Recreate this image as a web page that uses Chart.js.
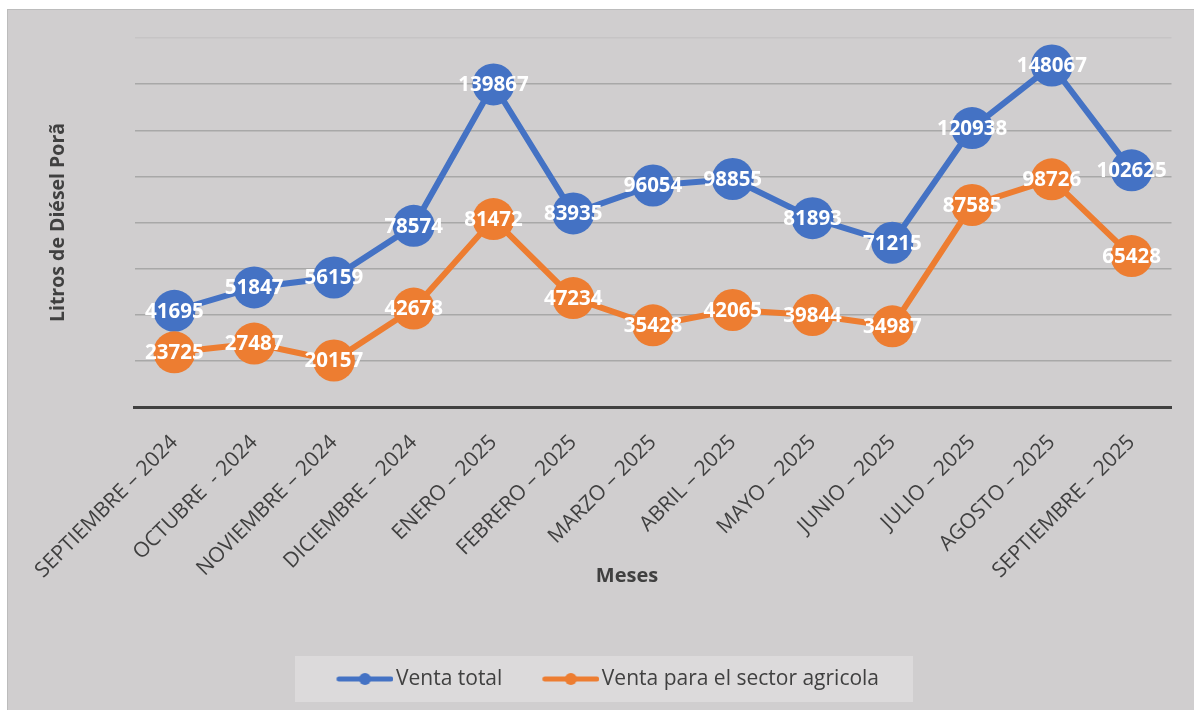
<!DOCTYPE html>
<html>
<head>
<meta charset="utf-8">
<script src="https://cdn.jsdelivr.net/npm/chart.js@4.4.1/dist/chart.umd.min.js"></script>
<style>
  html, body { margin: 0; padding: 0; background: #ffffff; overflow: hidden; }
  #frame {
    position: absolute; left: 7px; top: 9px; width: 1187px; height: 701px;
    background: #d0cecf; border-left: 1px solid #bcbcbc; border-top: 1px solid #bcbcbc;
  }
  #chart { display: block; }
</style>
</head>
<body>
<div id="frame"><canvas id="chart" width="1186" height="700"></canvas></div>
<script>
// Data
const months = [
  'SEPTIEMBRE – 2024', 'OCTUBRE  - 2024', 'NOVIEMBRE – 2024', 'DICIEMBRE – 2024',
  'ENERO – 2025', 'FEBRERO – 2025', 'MARZO – 2025', 'ABRIL – 2025', 'MAYO – 2025',
  'JUNIO – 2025', 'JULIO – 2025', 'AGOSTO – 2025', 'SEPTIEMBRE – 2025'
];
const ventaTotal = [41695, 51847, 56159, 78574, 139867, 83935, 96054, 98855, 81893, 71215, 120938, 148067, 102625];
const ventaAgricola = [23725, 27487, 20157, 42678, 81472, 47234, 35428, 42065, 39844, 34987, 87585, 98726, 65428];
const seriesNames = ['Venta total', 'Venta para el sector agricola'];
const yMax = 160000;
const yStep = 20000;

const BLUE = '#4472c4';
const ORANGE = '#ed7d31';
const TEXT = '#404040';

Chart.defaults.font.family = "'Open Sans', sans-serif";

// line+dot icon for the legend (line sits at the right end of the image)
function legendIcon(color) {
  const c = document.createElement('canvas');
  c.width = 95; c.height = 14;
  const g = c.getContext('2d');
  g.strokeStyle = color;
  g.lineWidth = 5;
  g.lineCap = 'round';
  g.beginPath(); g.moveTo(40.5, 7); g.lineTo(92.5, 7); g.stroke();
  g.fillStyle = color;
  g.beginPath(); g.arc(66.5, 7, 6, 0, Math.PI * 2); g.fill();
  return c;
}

// Plugins
const legendBackground = {
  id: 'legendBackground',
  beforeDraw(chart) {
    const boxes = chart.legend && chart.legend.legendHitBoxes;
    if (!boxes || !boxes.length) return;
    const cy = boxes[0].top + boxes[0].height / 2;
    const cx = chart.width / 2 + 3;
    const ctx = chart.ctx;
    ctx.save();
    ctx.fillStyle = '#dcdadb';
    ctx.fillRect(cx - 309, cy - 23, 618, 46);
    ctx.restore();
  }
};

const pointLabels = {
  id: 'pointLabels',
  afterDatasetsDraw(chart) {
    const ctx = chart.ctx;
    ctx.save();
    ctx.fillStyle = '#ffffff';
    ctx.font = "bold 20.5px 'Open Sans', sans-serif";
    ctx.textAlign = 'center';
    ctx.textBaseline = 'middle';
    chart.data.datasets.forEach((ds, i) => {
      const meta = chart.getDatasetMeta(i);
      meta.data.forEach((pt, j) => {
        ctx.fillText(String(ds.data[j]), pt.x, pt.y + 1);
      });
    });
    ctx.restore();
  }
};

const chart = new Chart(document.getElementById('chart').getContext('2d'), {
  type: 'line',
  data: {
    labels: months,
    datasets: [
      {
        label: seriesNames[0],
        data: ventaTotal,
        borderColor: BLUE,
        backgroundColor: BLUE,
        borderWidth: 6,
        pointRadius: 21,
        pointHoverRadius: 21,
        pointBorderWidth: 0,
        order: 1,
      },
      {
        label: seriesNames[1],
        data: ventaAgricola,
        borderColor: ORANGE,
        backgroundColor: ORANGE,
        borderWidth: 6,
        pointRadius: 21,
        pointHoverRadius: 21,
        pointBorderWidth: 0,
        order: 0,
      },
    ],
  },
  options: {
    responsive: false,
    animation: false,
    devicePixelRatio: 1,
    layout: { padding: { left: 6, top: 28, right: 22.5, bottom: 10.5 } },
    scales: {
      x: {
        offset: true,
        grid: { display: false },
        border: { display: true, color: TEXT, width: 3 },
        ticks: {
          autoSkip: false,
          maxRotation: 45,
          minRotation: 45,
          color: TEXT,
          padding: 15,
          font: { size: 21 },
        },
        title: {
          display: true,
          // trailing spaces pull the centred title a little to the left, as in the original
          text: 'Meses' + '\u00a0'.repeat(10),
          color: TEXT,
          font: { size: 20, weight: 'bold' },
          padding: { top: 4, bottom: 70.5 },
        },
        afterFit(scale) { scale.height = 251.5; },
      },
      y: {
        min: 0,
        max: yMax,
        ticks: { display: false, stepSize: yStep },
        border: { display: false },
        grid: {
          drawTicks: false,
          lineWidth: 1.5,
          color: (c) => c.tick.value === 0 ? 'rgba(0,0,0,0)' : (c.tick.value === yMax ? '#c6c4c5' : '#a8a8a8'),
        },
        title: {
          display: true,
          text: 'Litros de Diésel Porã',
          color: TEXT,
          font: { size: 19.5, weight: 'bold' },
          padding: { top: 32.5, bottom: 4 },
        },
        afterFit(scale) { scale.width = 120.5; },
      },
    },
    plugins: {
      tooltip: { enabled: false },
      legend: {
        position: 'bottom',
        labels: {
          usePointStyle: true,
          pointStyleWidth: 79,
          padding: 10,
          color: TEXT,
          font: { size: 21 },
          generateLabels(ch) {
            return ch.data.datasets.map((ds, i) => ({
              text: ds.label,
              pointStyle: legendIcon(ds.borderColor),
              fillStyle: ds.borderColor,
              strokeStyle: ds.borderColor,
              lineWidth: 0,
              fontColor: TEXT,
              hidden: false,
              datasetIndex: i,
            }));
          },
        },
      },
    },
  },
  plugins: [legendBackground, pointLabels],
});
</script>
</body>
</html>
